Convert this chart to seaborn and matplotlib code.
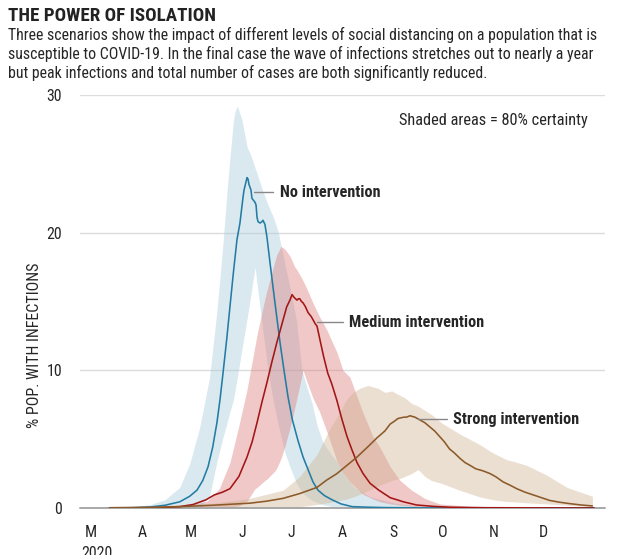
import numpy as np
import pandas as pd
import matplotlib
matplotlib.use("Agg")
import matplotlib.pyplot as plt
import matplotlib.dates as mdates
from matplotlib import font_manager
from matplotlib.ticker import FuncFormatter
import seaborn as sns

# ---------------- data (days after 1 March 2020, % of population) ----------------
no_med_days = [11, 25, 36, 45, 54, 60, 64.5, 68, 71.2, 74, 76.6, 78.5, 80.3, 82.5, 84.5, 86.7, 88.8,
               90.6, 92.5, 93.1, 94.9, 95.5, 96.1, 97.3, 97.9, 98.5, 99.8, 100.4, 101, 101.6, 102.8,
               104, 104.6, 105.8, 107, 108.9, 111.9, 115, 117.4, 119.8, 122.5, 125.9, 129, 132, 135,
               138, 142, 146.6, 152, 158.8, 168, 178.8, 200, 240, 306]
no_med_vals = [0.0, 0.02, 0.07, 0.2, 0.45, 0.85, 1.3, 2.0, 3.0, 4.4, 6.2, 7.9, 9.8, 12.2, 14.6, 17.2, 19.5,
               20.7, 22.6, 23.1, 24.0, 23.9, 23.5, 23.1, 22.5, 22.4, 22.2, 22.0, 21.1, 20.8, 20.7,
               20.8, 20.9, 20.6, 19.7, 17.8, 14.9, 12.0, 10.0, 8.1, 6.4, 4.9, 3.7, 2.8, 1.9,
               1.3, 0.9, 0.6, 0.3, 0.1, 0.06, 0.03, 0.01, 0.0, 0.0]
no_band_days = [10, 24, 36, 45, 54, 60, 66, 72, 76.5, 80, 83, 84.5, 86.5, 87.6, 89, 91.8, 95, 97, 99.8, 101,
                104, 107.7, 111, 114, 118, 121, 125, 128.3, 131, 134.5, 137.5, 141, 146, 150, 155, 160,
                170, 185, 203, 250, 306]
no_band_hi = [0.01, 0.05, 0.25, 0.6, 1.5, 3.2, 5.8, 9.4, 14.2, 18.8, 23.4, 25.4, 28.0, 28.8, 29.2, 28.2, 26.2,
              25.7, 24.7, 24.3, 23.2, 22.0, 21.1, 20.0, 17.7, 16.0, 13.6, 10.0, 8.9, 7.6, 6.0, 4.8, 3.9,
              3.3, 2.3, 1.5, 0.8, 0.35, 0.1, 0.02, 0.0]
no_band_lo = [0, 0, 0, 0, 0, 0, 0.08, 0.8, 3.3, 5.0, 6.3, 7.0, 7.8, 8.5, 9.5, 11.5, 13.8, 15.3, 17.5, 16.3,
              13.4, 10.0, 7.7, 6.0, 4.0, 3.0, 1.8, 1.15, 0.85, 0.55, 0.4, 0.25, 0.12, 0.07, 0.03, 0.01,
              0, 0, 0, 0, 0]

med_med_days = [11.5, 30, 40, 54, 62, 70, 75, 80, 84.5, 90, 94.9, 98, 101, 104, 107, 110, 113, 116, 119,
                121, 122.3, 123.5, 125.3, 126.2, 127, 128, 129, 130.5, 132, 134, 136.3, 137.5, 139.3,
                141.5, 144, 146.5, 149.6, 152.5, 155.7, 158.8, 161.8, 165.5, 169.7, 175, 182, 190, 198,
                208, 218, 240, 270, 306]
med_med_vals = [0, 0.01, 0.02, 0.1, 0.25, 0.6, 0.95, 1.15, 1.4, 2.3, 3.7, 4.8, 6.2, 7.7, 9.1, 10.6, 12.0,
                13.3, 14.6, 15.1, 15.5, 15.3, 15.1, 15.2, 15.2, 15.0, 14.9, 14.6, 14.2, 13.9, 13.4, 13.2,
                12.2, 11.0, 9.8, 9.0, 7.8, 6.5, 5.2, 4.2, 3.3, 2.5, 1.8, 1.3, 0.75, 0.45, 0.22, 0.12,
                0.06, 0.02, 0.01, 0.0]
med_band_days = [30, 40, 51, 60, 70.6, 78, 84.5, 90, 94.9, 99.8, 101, 105.8, 107, 112, 113, 115.6, 118,
                 121, 124, 125.3, 129, 131, 135, 139, 143.6, 149.6, 153.3, 157.5, 161.8, 165.5, 171.5,
                 175.8, 182, 188, 195, 203, 212, 232, 260, 306]
med_band_hi = [0.0, 0.02, 0.08, 0.2, 0.5, 1.4, 3.3, 6.0, 8.6, 11.8, 12.6, 15.2, 15.8, 18.0, 18.4, 19.0,
               18.8, 18.3, 17.5, 17.3, 16.5, 16.0, 14.9, 13.9, 12.9, 11.3, 10.0, 9.5, 8.1, 6.9, 5.2,
               4.4, 3.0, 2.0, 1.3, 0.7, 0.3, 0.1, 0.03, 0.0]
med_band_lo = [0, 0, 0, 0, 0, 0, 0.05, 0.15, 0.5, 1.4, 1.5, 2.0, 2.1, 2.7, 2.9, 3.6, 4.5, 5.8, 7.3, 8.0,
               10.0, 9.3, 8.0, 7.0, 5.5, 3.4, 2.6, 1.9, 1.4, 1.0, 0.65, 0.45, 0.3, 0.2, 0.12, 0.08,
               0.05, 0.02, 0, 0]

str_med_days = [11.5, 36, 55, 74, 96.7, 107, 116.8, 127, 137.5, 143, 149.6, 155.7, 161.8, 168, 174, 178.8,
                182, 184.5, 186.7, 188.5, 190.4, 192, 194, 195.5, 197, 200, 203, 206, 209, 212, 215, 218,
                221, 224.5, 227.5, 230.5, 234, 238.4, 242.7, 246.5, 250.6, 255, 259, 264, 269, 274, 279,
                285, 291, 298, 305]
str_med_vals = [0.02, 0.05, 0.1, 0.2, 0.35, 0.5, 0.7, 1.05, 1.5, 2.0, 2.5, 3.1, 3.7, 4.4, 5.1, 5.6,
                6.1, 6.3, 6.5, 6.55, 6.6, 6.6, 6.7, 6.65, 6.6, 6.4, 6.2, 5.9, 5.6, 5.2, 4.8, 4.3,
                4.0, 3.6, 3.3, 3.1, 2.85, 2.7, 2.5, 2.25, 1.9, 1.65, 1.4, 1.15, 0.95, 0.75, 0.55,
                0.42, 0.32, 0.22, 0.15]
str_band_days = [11.5, 36, 74, 96.7, 117, 127, 137.5, 145, 151.5, 155.5, 159.4, 163.6, 168.5, 174.6, 178.8,
                 183, 189.2, 191, 195, 199, 203, 207, 213, 224, 236.6, 244.5, 253, 256.6, 265, 277,
                 289.5, 305]
str_band_hi = [0.05, 0.15, 0.35, 0.7, 1.3, 2.3, 3.9, 5.7, 7.0, 7.9, 8.4, 8.7, 8.9, 8.7, 8.4, 8.5, 8.1,
               8.0, 7.6, 7.4, 7.1, 6.8, 6.2, 5.4, 4.6, 4.0, 3.5, 3.4, 3.1, 2.4, 1.5, 0.85]
str_band_lo = [0, 0, 0, 0, 0.02, 0.1, 0.25, 0.4, 0.55, 0.65, 0.8, 1.0, 1.25, 1.6, 1.8, 2.0, 2.2, 2.3,
               2.5, 2.8, 2.3, 2.0, 1.8, 1.3, 0.8, 0.6, 0.47, 0.45, 0.38, 0.3, 0.2, 0.1]

month_labels = ["M", "A", "M", "J", "J", "A", "S", "O", "N", "D"]
y_ticks = [0, 10, 20, 30]

title = "THE POWER OF ISOLATION"
subtitle_lines = ["Three scenarios show the impact of different levels of social distancing on a population that is",
                  "susceptible to COVID-19. In the final case the wave of infections stretches out to nearly a year",
                  "but peak infections and total number of cases are both significantly reduced."]

# ---------------- style ----------------
sns.set_style("white")
_names = {f.name for f in font_manager.fontManager.ttflist}
_pref = ["Roboto Condensed", "Liberation Sans Narrow", "Open Sans Condensed", "Noto Sans Condensed",
         "Lato", "Roboto", "Open Sans", "DejaVu Sans"]
_main = next(n for n in _pref if n in _names)
plt.rcParams["font.family"] = [_main, "DejaVu Sans"]

base = pd.Timestamp("2020-03-01")


def to_dates(d):
    return base + pd.to_timedelta(np.asarray(d, dtype=float), unit="D")


W, H = 635, 555
fig = plt.figure(figsize=(W / 100, H / 100), dpi=100)
ax = fig.add_axes([80 / W, 47 / H, 525 / W, 413 / H])
renderer = fig.canvas.get_renderer()


def fit(t, target, vertical=False):
    bb = t.get_window_extent(renderer=renderer)
    cur = bb.height if vertical else bb.width
    t.set_fontsize(t.get_fontsize() * target / cur)
    return t.get_fontsize()


scen = [
    (no_band_days, no_band_hi, no_band_lo, no_med_days, no_med_vals, "#a3c8da", "#237ca3"),
    (med_band_days, med_band_hi, med_band_lo, med_med_days, med_med_vals, "#da7676", "#a31515"),
    (str_band_days, str_band_hi, str_band_lo, str_med_days, str_med_vals, "#cfb18e", "#8c5a28"),
]

for bd, hi, lo, md, mv, fc, lc in scen:
    ax.fill_between(to_dates(bd), lo, hi, color=fc, alpha=0.4, lw=0, zorder=2)

for bd, hi, lo, md, mv, fc, lc in scen:
    sns.lineplot(x=to_dates(md), y=mv, ax=ax, color=lc, lw=1.15, zorder=4)

ax.set_xlim(base + pd.Timedelta(days=-6.69), base + pd.Timedelta(days=312.65))
ax.set_ylim(0, 30)
ax.set_yticks(y_ticks)
ax.yaxis.grid(True, color="#dcdcdc", lw=1.0, zorder=0)
ax.xaxis.grid(False)
ax.axhline(0, color="#a8a8a8", lw=1.4, zorder=3, clip_on=False)
for s in ax.spines.values():
    s.set_visible(False)
ax.set_xlabel("")
ax.set_ylabel("")

# subtitle sizing first (sets the body size)
sub_y = [35, 54, 72.5]
sub_texts = [fig.text(8 / W, 1 - y / H, s, fontsize=10.5, ha="left", va="center") for s, y in zip(subtitle_lines, sub_y)]
body = fit(sub_texts[0], 597)
for t in sub_texts[1:]:
    t.set_fontsize(body)

ttl = fig.text(8 / W, 1 - 16 / H, title, fontsize=12, fontweight="bold", color="#222222", ha="left", va="center")
fit(ttl, 207)

ax.xaxis.set_major_locator(mdates.MonthLocator(bymonth=range(3, 13)))
ax.xaxis.set_major_formatter(FuncFormatter(lambda v, p: month_labels[mdates.num2date(v).month - 3]))
ax.tick_params(axis="x", length=6, width=0.9, color="#9a9a9a", pad=6, labelsize=body)
ax.tick_params(axis="y", length=0, pad=13, labelsize=body)

# label size from the "Medium intervention" width in the reference
probe = fig.text(0, 0, "Medium intervention", fontsize=10.5, fontweight="bold")
lab_size = fit(probe, 135)
probe.remove()


def ann(day_from, day_to, val, text):
    ax.plot(to_dates([day_from, day_to]), [val, val], color="#888888", lw=1.0, zorder=5)
    ax.text(base + pd.Timedelta(days=day_to + 3.8), val, text, fontsize=lab_size, fontweight="bold",
            va="center", ha="left", zorder=6)


ann(99.0, 111.0, 22.95, "No intervention")
ann(137.5, 153.3, 13.5, "Medium intervention")
ann(198.9, 216.4, 6.45, "Strong intervention")

sh = fig.text(588 / W, 1 - 121 / H, "Shaded areas = 80% certainty", fontsize=10.5, ha="right", va="center")
fit(sh, 191)

yl = fig.text(35 / W, 1 - 345 / H, "% POP. WITH INFECTIONS", rotation=90, fontsize=10.5, ha="center", va="center")
fit(yl, 166, vertical=True)
fig.text(81 / W, 1 - 546 / H, "2020", fontsize=body, ha="left", va="top")

fig.savefig("out.png", dpi=100)
